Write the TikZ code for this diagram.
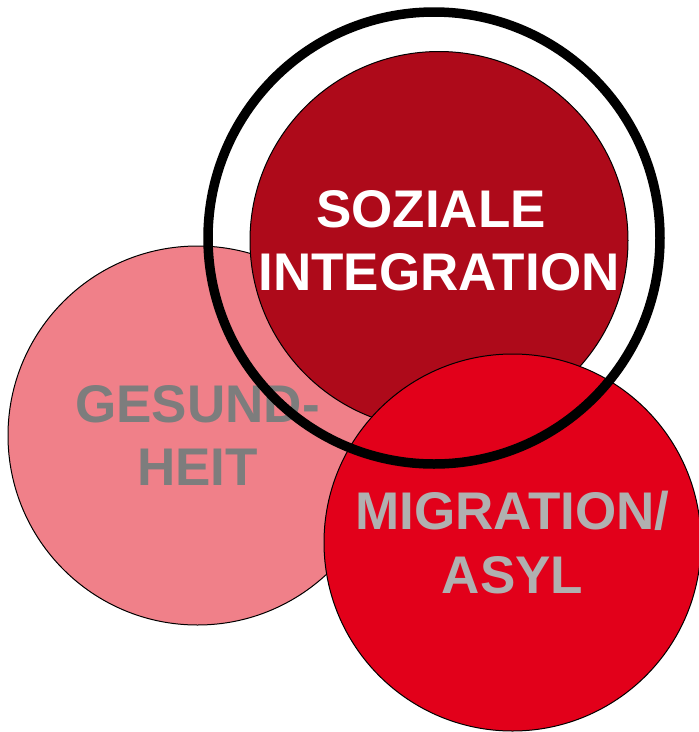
\documentclass[tikz,border=0pt]{standalone}
\usepackage{fontspec}
\setmainfont{Liberation Sans}
\definecolor{pinkc}{RGB}{240,128,137}
\definecolor{darkredc}{RGB}{174,10,26}
\definecolor{redc}{RGB}{226,0,26}
\definecolor{graytext}{RGB}{125,125,125}
\definecolor{lightgraytext}{RGB}{176,176,176}
\begin{document}
\begin{tikzpicture}[x=1pt,y=-1pt,
  topic/.style={circle,draw=black,line width=1pt,inner sep=0pt,align=center,
    font=\fontsize{53}{63.5}\selectfont\bfseries},
  ring/.style={circle,draw=black,line width=9.5pt,inner sep=0pt,minimum size=452pt}]
\useasboundingbox (0,0) rectangle (699,732);
\node[topic,fill=pinkc,minimum size=379pt,text=graytext] (ges) at (197.5,435.5) {GESUND-\\HEIT};
\node[topic,fill=darkredc,minimum size=378pt,text=white] (soz) at (439,240.5) {SOZIALE\hspace*{16pt}\\INTEGRATION};
\node[topic,fill=redc,minimum size=377pt,text=lightgraytext] (mig) at (512.5,542.5) {MIGRATION/\\ASYL};
\node[ring] (ring) at (434,238) {};
\end{tikzpicture}
\end{document}
